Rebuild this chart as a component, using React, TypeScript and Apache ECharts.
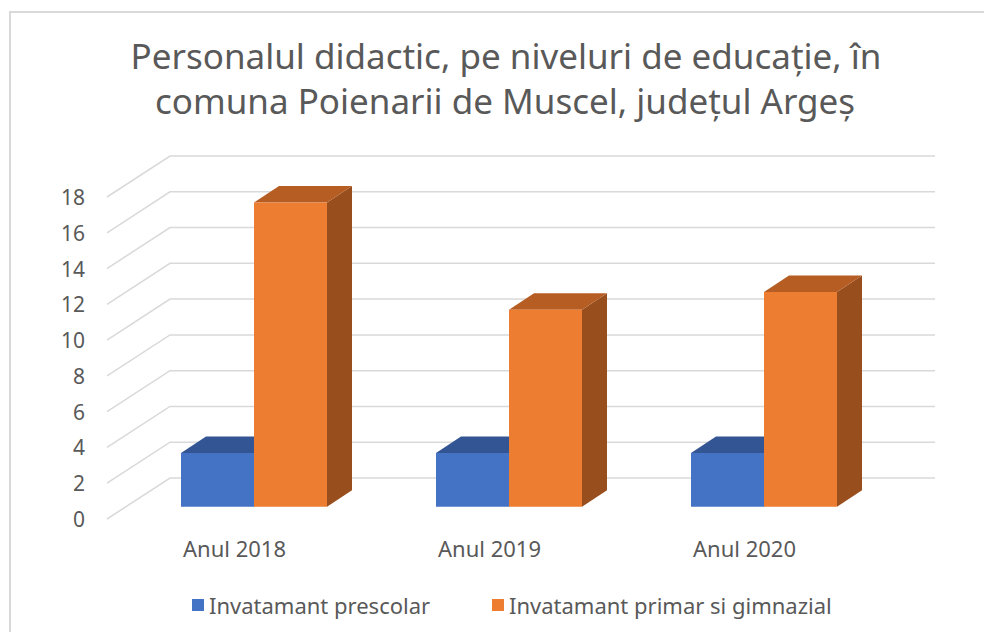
import React, { useEffect, useRef } from 'react';
import * as echarts from 'echarts';

const categories = ['Anul 2018', 'Anul 2019', 'Anul 2020'];
const prescolar = [3, 3, 3];
const primarGimnazial = [17, 11, 12];
const seriesNames = ['Invatamant prescolar', 'Invatamant primar si gimnazial'];
const yTicks = [0, 2, 4, 6, 8, 10, 12, 14, 16, 18];
const titleLines = [
  'Personalul didactic, pe niveluri de educație, în',
  'comuna Poienarii de Muscel, județul Argeș',
];

const FONT = '"Noto Sans", "Open Sans", sans-serif';
const TEXT = '#595959';
const GRID = '#d9d9d9';
const DEPTH_X = 25;
const DEPTH_Y = -16.5;
const WALL_X = 63;
const WALL_Y = -41;
const BAR_FRACTION = 73 / 255;

type Faces = { front: string; top: string; side: string };

function barRenderer(offset: number, c: Faces) {
  return (params: any, api: any) => {
    const i = api.value(0);
    const v = api.value(1);
    const base = api.coord([i, 0]);
    const top = api.coord([i, v]);
    const band = api.size([1, 0])[0];
    const w = band * BAR_FRACTION;
    const x0 = base[0] + offset * w;
    const x1 = x0 + w;
    const yb = base[1];
    const yt = top[1];
    return {
      type: 'group',
      children: [
        {
          type: 'polygon',
          shape: { points: [[x1, yb], [x1 + DEPTH_X, yb + DEPTH_Y], [x1 + DEPTH_X, yt + DEPTH_Y], [x1, yt]] },
          style: { fill: c.side },
        },
        {
          type: 'polygon',
          shape: { points: [[x0, yt], [x0 + DEPTH_X, yt + DEPTH_Y], [x1 + DEPTH_X, yt + DEPTH_Y], [x1, yt]] },
          style: { fill: c.top },
        },
        {
          type: 'rect',
          shape: { x: x0, y: yt, width: w, height: yb - yt },
          style: { fill: c.front },
        },
      ],
    };
  };
}

export default function App() {
  const ref = useRef<HTMLDivElement>(null);
  useEffect(() => {
    if (!ref.current) return;
    const chart = echarts.init(ref.current, null, { renderer: 'svg' });
    const option: any = {
      animation: false,
      backgroundColor: '#ffffff',
      graphic: [
        {
          type: 'rect',
          z: -10,
          shape: { x: 10, y: 12, width: 1000, height: 700 },
          style: { fill: 'none', stroke: GRID, lineWidth: 2 },
        },
        {
          type: 'text',
          x: 506,
          y: 55,
          style: { text: titleLines[0], fill: TEXT, font: `35px ${FONT}`, align: 'center', verticalAlign: 'middle' },
        },
        {
          type: 'text',
          x: 505,
          y: 100,
          style: { text: titleLines[1], fill: TEXT, font: `35px ${FONT}`, align: 'center', verticalAlign: 'middle' },
        },
      ],
      legend: [
        {
          data: [seriesNames[0]],
          left: 187,
          top: 589,
          icon: 'rect',
          itemWidth: 12,
          itemHeight: 12,
          textStyle: { color: TEXT, fontSize: 22, fontFamily: FONT },
        },
        {
          data: [seriesNames[1]],
          left: 487,
          top: 589,
          icon: 'rect',
          itemWidth: 12,
          itemHeight: 12,
          textStyle: { color: TEXT, fontSize: 22, fontFamily: FONT },
        },
      ],
      grid: [
        { left: 107, top: 197, width: 765, height: 322 },
        { left: 126.5, top: 506.7 - 18 * 17.9, width: 765, height: 18 * 17.9 },
      ],
      xAxis: [
        {
          type: 'category',
          gridIndex: 0,
          data: categories,
          axisLine: { show: false },
          axisTick: { show: false },
          axisLabel: { color: TEXT, fontSize: 22, fontFamily: FONT, margin: 18 },
        },
        {
          type: 'category',
          gridIndex: 1,
          data: categories,
          show: false,
        },
      ],
      yAxis: [
        {
          type: 'value',
          gridIndex: 0,
          min: 0,
          max: 18,
          interval: 2,
          axisLine: { show: false },
          axisTick: { show: false },
          splitLine: { show: false },
          axisLabel: { color: TEXT, fontSize: 21, fontFamily: FONT, margin: 22 },
        },
        {
          type: 'value',
          gridIndex: 1,
          min: 0,
          max: 18,
          interval: 2,
          show: false,
          splitLine: { show: false },
        },
      ],
      series: [
        {
          type: 'custom',
          name: 'grid',
          xAxisIndex: 0,
          yAxisIndex: 0,
          silent: true,
          clip: false,
          z: 1,
          data: yTicks.map((v) => [0, v]),
          renderItem: (params: any, api: any) => {
            const p = api.coord([0, api.value(1)]);
            const x = params.coordSys.x;
            const y = p[1];
            return {
              type: 'polyline',
              shape: {
                points: [
                  [x, y],
                  [x + WALL_X, y + WALL_Y],
                  [x + WALL_X + params.coordSys.width, y + WALL_Y],
                ],
              },
              style: { stroke: GRID, lineWidth: 1.5, fill: 'none' },
            };
          },
        },
        {
          type: 'custom',
          name: seriesNames[0],
          xAxisIndex: 1,
          yAxisIndex: 1,
          clip: false,
          z: 3,
          itemStyle: { color: '#4472C4' },
          data: prescolar.map((v, i) => [i, v]),
          renderItem: barRenderer(-1, { front: '#4472C4', top: '#335593', side: '#2C4F8C' }),
        },
        {
          type: 'custom',
          name: seriesNames[1],
          xAxisIndex: 1,
          yAxisIndex: 1,
          clip: false,
          z: 4,
          itemStyle: { color: '#ED7D31' },
          data: primarGimnazial.map((v, i) => [i, v]),
          renderItem: barRenderer(0, { front: '#ED7D31', top: '#B55D22', side: '#994E1E' }),
        },
      ],
    };
    chart.setOption(option);
    return () => chart.dispose();
  }, []);
  return <div ref={ref} style={{ position: 'fixed', left: 0, top: 0, width: 984, height: 632 }} />;
}
